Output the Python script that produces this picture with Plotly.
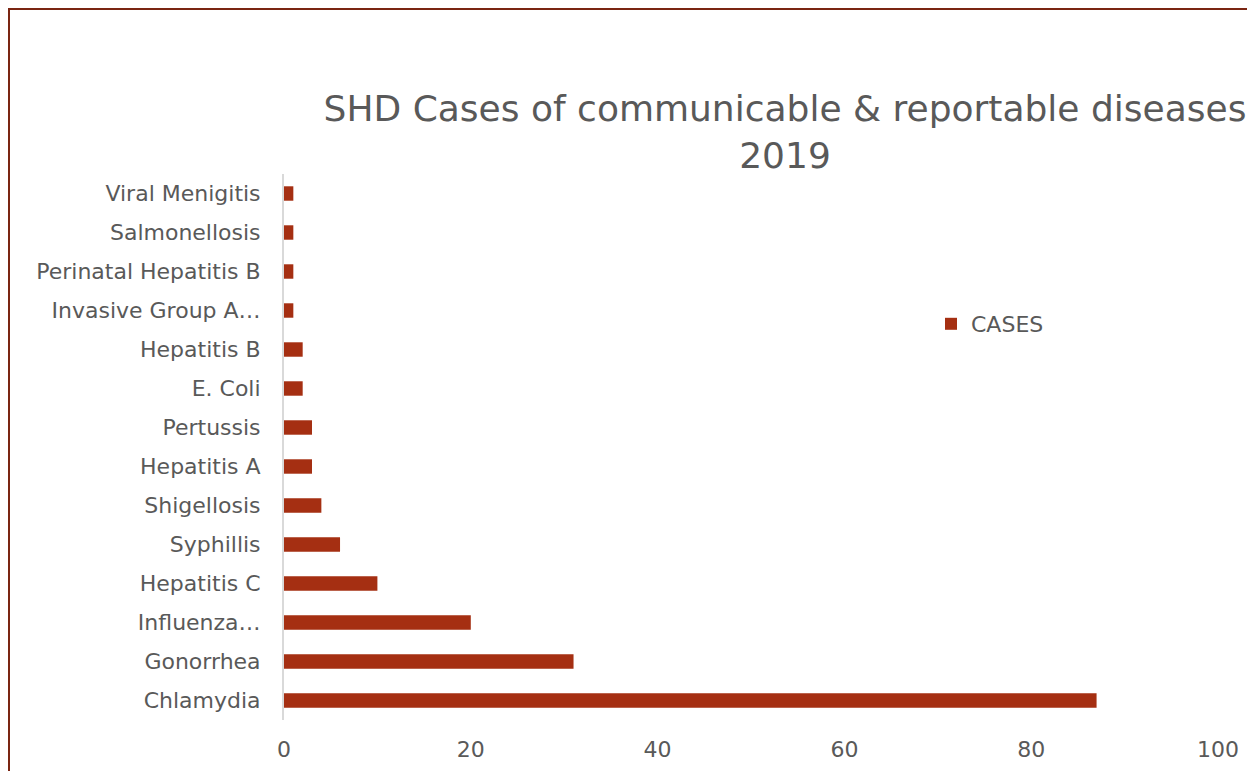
import plotly.graph_objects as go

categories = ["Chlamydia", "Gonorrhea", "Influenza…", "Hepatitis C", "Syphillis",
              "Shigellosis", "Hepatitis A", "Pertussis", "E. Coli", "Hepatitis B",
              "Invasive Group A…", "Perinatal Hepatitis B", "Salmonellosis", "Viral Menigitis"]
cases = [87, 31, 20, 10, 6, 4, 3, 3, 2, 2, 1, 1, 1, 1]
series_name = "CASES"
x_ticks = [0, 20, 40, 60, 80, 100]
title_text = "SHD Cases of communicable & reportable diseases<br>2019"

BAR = "#A52F12"
TEXT = "#595959"
FONT = "DejaVu Sans"

# page offset of the figure inside the html body
OFF = 8
W, H = 1255 - OFF, 771 - OFF
L, R, T, B = 284 - OFF, W - (1218 - OFF), 174 - OFF, H - (720 - OFF)
pw, ph = W - L - R, H - T - B


def px_x(p):
    return (p - OFF - L) / pw


def px_y(p):
    return (H - B - (p - OFF)) / ph


fig = go.Figure()
fig.add_trace(go.Bar(
    x=cases, y=categories, orientation="h", name=series_name,
    marker=dict(color=BAR, line=dict(width=0)),
    showlegend=True,
))

fig.update_layout(
    width=W, height=H,
    margin=dict(l=L, r=R, t=T, b=B),
    paper_bgcolor="white", plot_bgcolor="white",
    font=dict(family=FONT, color=TEXT, size=22),
    bargap=0.63,
    title=dict(text=title_text, x=(785 - OFF) / W, xanchor="center", xref="container",
               y=1 - 113 / H, yanchor="middle", yref="container",
               font=dict(family=FONT, size=36, color=TEXT)),
    legend=dict(x=px_x(931), y=px_y(324), xanchor="left", yanchor="middle",
                font=dict(family=FONT, size=22, color=TEXT), bgcolor="rgba(0,0,0,0)"),
    xaxis=dict(range=[0, 100], tickvals=x_ticks, showgrid=False, zeroline=False,
               showline=False, ticks="", ticklabelstandoff=14, automargin=False,
               tickfont=dict(size=22, color=TEXT)),
    yaxis=dict(categoryorder="array", categoryarray=categories, showgrid=False,
               zeroline=False, showline=True, linecolor="#D9D9D9", linewidth=2,
               ticks="", ticklabelstandoff=17, automargin=False,
               tickfont=dict(size=22, color=TEXT)),
    shapes=[dict(type="rect", xref="paper", yref="paper",
                 x0=px_x(9), x1=px_x(1275), y0=px_y(790), y1=px_y(9),
                 line=dict(color="#7A2512", width=2), fillcolor="rgba(0,0,0,0)",
                 layer="below")],
)

fig.write_html("out.html")
